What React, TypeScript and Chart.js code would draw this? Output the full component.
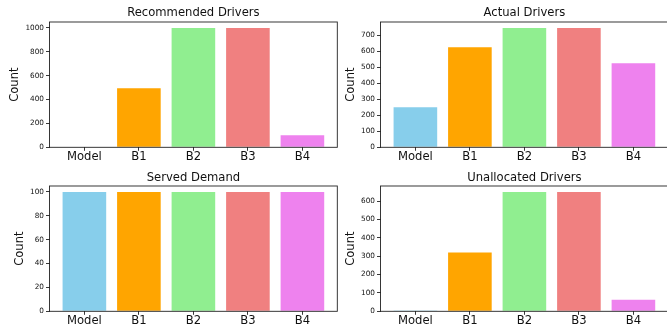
import React, { useEffect, useRef } from 'react';
import { Chart, registerables } from 'chart.js';

Chart.register(...registerables);

// ---- data ----
const categories = ['Model', 'B1', 'B2', 'B3', 'B4'];
const barColors = ['#87CEEB', '#FFA500', '#90EE90', '#F08080', '#EE82EE'];

const recommendedDrivers = [0, 495, 1000, 1000, 100];
const actualDrivers = [250, 625, 745, 745, 525];
const servedDemand = [100, 100, 100, 100, 100];
const unallocatedDrivers = [5, 320, 650, 650, 63];

const recommendedTicks = [0, 200, 400, 600, 800, 1000];
const actualTicks = [0, 100, 200, 300, 400, 500, 600, 700];
const servedTicks = [0, 20, 40, 60, 80, 100];
const unallocatedTicks = [0, 100, 200, 300, 400, 500, 600];

const FONT = "'DejaVu Sans', 'Liberation Sans', sans-serif";
const TEXT = '#111';
const LINE = '#222';

type Layout = {
  x: number; y: number; w: number; h: number;
  areaLeft: number; areaTop: number; areaRight: number; areaBottom: number;
  ylabelPad: number; titlePadTop: number;
};

type PanelCfg = { title: string; values: number[]; ticks: number[]; layout: Layout };

const panels: PanelCfg[] = [
  {
    title: 'Recommended Drivers', values: recommendedDrivers, ticks: recommendedTicks,
    layout: { x: 0, y: 0, w: 340, h: 165, areaLeft: 49.5, areaTop: 22, areaRight: 337.3, areaBottom: 147.3, ylabelPad: 8, titlePadTop: 6 },
  },
  {
    title: 'Actual Drivers', values: actualDrivers, ticks: actualTicks,
    layout: { x: 340, y: 0, w: 332, h: 165, areaLeft: 40.5, areaTop: 22, areaRight: 328.3, areaBottom: 147.3, ylabelPad: 3.8, titlePadTop: 6 },
  },
  {
    title: 'Served Demand', values: servedDemand, ticks: servedTicks,
    layout: { x: 0, y: 165, w: 340, h: 165, areaLeft: 49.5, areaTop: 21, areaRight: 337.3, areaBottom: 146.3, ylabelPad: 13, titlePadTop: 5.6 },
  },
  {
    title: 'Unallocated Drivers', values: unallocatedDrivers, ticks: unallocatedTicks,
    layout: { x: 340, y: 165, w: 332, h: 165, areaLeft: 40.5, areaTop: 21, areaRight: 328.3, areaBottom: 146.3, ylabelPad: 3.8, titlePadTop: 5.6 },
  },
];

const spinePlugin = {
  id: 'spines',
  afterDraw(chart: any) {
    const { ctx, chartArea: a } = chart;
    ctx.save();
    ctx.strokeStyle = LINE;
    ctx.lineWidth = 0.9;
    ctx.strokeRect(a.left, a.top, a.right - a.left, a.bottom - a.top);
    ctx.restore();
  },
};

function Panel({ cfg }: { cfg: PanelCfg }) {
  const ref = useRef<HTMLCanvasElement>(null);
  const lay = cfg.layout;
  useEffect(() => {
    const canvas = ref.current!;
    const maxVal = Math.max(...cfg.values);
    const titleLH = 11.6 * 1.2;
    const chart = new Chart(canvas, {
      type: 'bar',
      data: {
        datasets: [
          {
            data: cfg.values.map((v, i) => ({ x: i, y: v })),
            backgroundColor: barColors,
            borderWidth: 0,
            barPercentage: 0.8,
            categoryPercentage: 1,
          } as any,
        ],
      },
      options: {
        animation: false,
        responsive: false,
        devicePixelRatio: 1,
        layout: { padding: { left: 0, top: 0, right: lay.w - lay.areaRight, bottom: 0 } },
        plugins: {
          legend: { display: false },
          tooltip: { enabled: false },
          title: {
            display: true,
            text: cfg.title,
            fullSize: false,
            color: TEXT,
            font: { family: FONT, size: 11.6, weight: 'normal' as any, lineHeight: 1.2 },
            padding: { top: lay.titlePadTop, bottom: lay.areaTop - titleLH - lay.titlePadTop },
          },
        },
        scales: {
          x: {
            type: 'linear',
            min: -0.64,
            max: 4.64,
            offset: false,
            afterBuildTicks: (ax: any) => {
              ax.ticks = categories.map((_, i) => ({ value: i }));
            },
            afterFit: (ax: any) => {
              ax.height = lay.h - lay.areaBottom;
            },
            ticks: {
              callback: (v: any) => categories[Math.round(Number(v))] ?? '',
              color: TEXT,
              font: { family: FONT, size: 11.6, lineHeight: 1.1 },
              padding: 0,
              maxRotation: 0,
              autoSkip: false,
            },
            grid: {
              display: true,
              drawOnChartArea: false,
              drawTicks: true,
              tickLength: 3.5,
              tickColor: LINE,
              tickWidth: 0.9,
              offset: false,
            },
            border: { display: false },
          },
          y: {
            type: 'linear',
            min: 0,
            max: maxVal * 1.05,
            afterBuildTicks: (ax: any) => {
              ax.ticks = cfg.ticks.map((v) => ({ value: v }));
            },
            afterFit: (ax: any) => {
              ax.width = lay.areaLeft;
            },
            ticks: {
              callback: (v: any) => String(v),
              color: TEXT,
              font: { family: FONT, size: 7.3 },
              padding: 2,
              autoSkip: false,
            },
            grid: {
              display: true,
              drawOnChartArea: false,
              drawTicks: true,
              tickLength: 3.5,
              tickColor: LINE,
              tickWidth: 0.9,
            },
            border: { display: false },
            title: {
              display: true,
              text: 'Count',
              color: TEXT,
              font: { family: FONT, size: 11.6, lineHeight: 1.2 },
              padding: { top: lay.ylabelPad, bottom: 0 },
            },
          },
        },
      } as any,
      plugins: [spinePlugin],
    });
    return () => chart.destroy();
  }, []);
  return (
    <canvas
      ref={ref}
      width={lay.w}
      height={lay.h}
      style={{ position: 'absolute', left: lay.x, top: lay.y, width: lay.w, height: lay.h }}
    />
  );
}

export default function App() {
  return (
    <div
      style={{
        position: 'fixed',
        left: 0,
        top: 0,
        width: 667,
        height: 326,
        overflow: 'hidden',
        background: '#fff',
      }}
    >
      {panels.map((p) => (
        <Panel key={p.title} cfg={p} />
      ))}
    </div>
  );
}
